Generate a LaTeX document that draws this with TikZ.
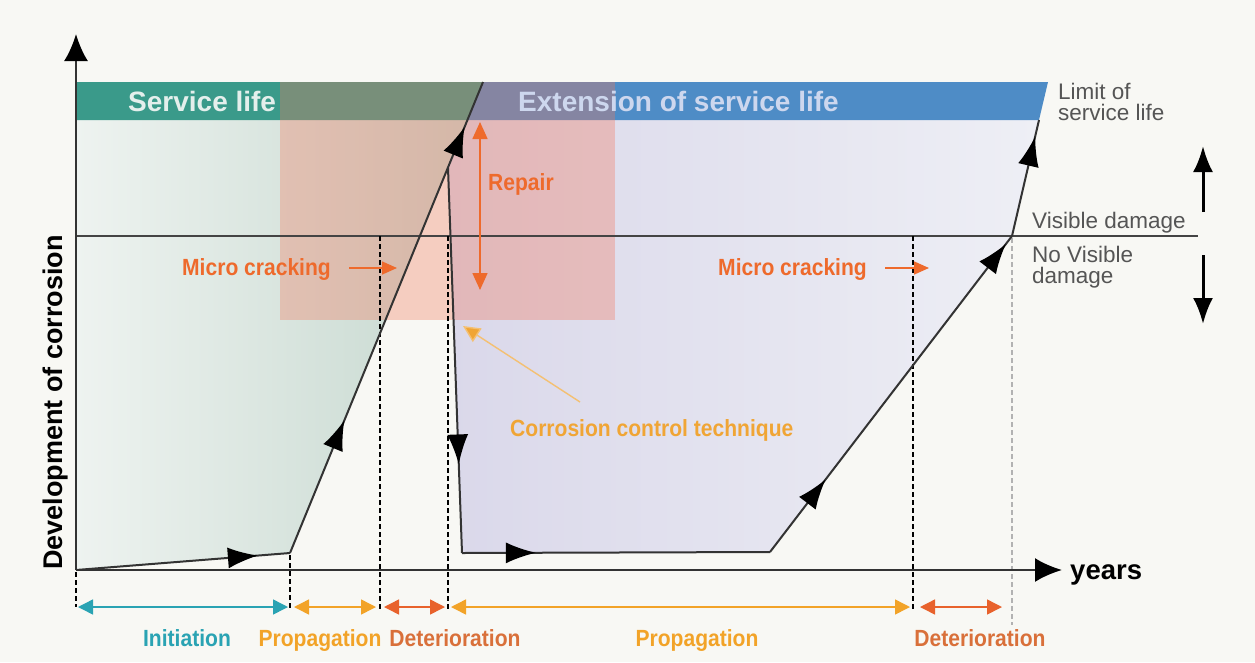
\documentclass[tikz,border=0pt]{standalone}
\usepackage{fontspec}
\setmainfont{Liberation Sans}
\newfontfamily\cond[FakeStretch=0.9]{Liberation Sans}
\usetikzlibrary{arrows.meta,decorations.markings}
\definecolor{bgc}{HTML}{F8F8F4}
\definecolor{tealband}{HTML}{3A9A8A}
\definecolor{blueband}{HTML}{4E8CC6}
\definecolor{pinkc}{HTML}{F27A5E}
\definecolor{greenL}{HTML}{EEF3F0}
\definecolor{greenD}{HTML}{C6D8CF}
\definecolor{purpL}{HTML}{DAD8EA}
\definecolor{purpR}{HTML}{EEEFF5}
\definecolor{curvec}{HTML}{333333}
\definecolor{cyanc}{HTML}{2AA3B3}
\definecolor{orangec}{HTML}{F2A328}
\definecolor{redc}{HTML}{E8622C}
\definecolor{detc}{HTML}{D9703A}
\definecolor{labelor}{HTML}{EE6A2C}
\definecolor{cctc}{HTML}{F0A535}
\definecolor{grayt}{HTML}{555555}
\definecolor{bandtxt}{HTML}{E4EFEC}
\begin{document}
\begin{tikzpicture}[x=1pt,y=-1pt,
  curve/.style={draw=curvec,line width=2pt},
  marr/.style={postaction={decorate,decoration={markings,
     mark=at position #1 with {\arrow{Latex[length=30pt,width=21pt,color=black]}}}}},
  dashv/.style={draw=black,line width=1.1pt,dash pattern=on 5pt off 3pt},
  dashg/.style={draw=black!30,line width=1.1pt,dash pattern=on 5pt off 3pt},
  span/.style={line width=1.5pt,{Triangle[length=15pt,width=15pt]}-{Triangle[length=15pt,width=15pt]}},
  orlab/.style={font=\cond\bfseries\fontsize{23.4}{24}\selectfont,inner sep=0pt},
  bandlab/.style={font=\bfseries\fontsize{28}{30}\selectfont,text=bandtxt,inner sep=0pt},
  graylab/.style={font=\fontsize{22.5}{20.5}\selectfont,text=grayt,inner sep=0pt,align=left},
  bigarr/.style={draw=black,line width=3pt,-{Latex[length=26pt,width=20pt]}}
]
\useasboundingbox (0,0) rectangle (1255,662);
\fill[bgc] (0,0) rectangle (1255,662);

% key points of the curve
\coordinate (O) at (76,570);
\coordinate (A) at (290,553);
\coordinate (B) at (467,120);
\coordinate (Bt) at (483,82);
\coordinate (C) at (448,168);
\coordinate (D) at (462,553);
\coordinate (E) at (770,552);
\coordinate (F) at (1012,236);
\coordinate (G) at (1039,120);
\coordinate (Gt) at (1048,82);

% shaded regions
\shade[left color=greenL,right color=greenD] (76,120) -- (B) -- (A) -- (O) -- cycle;
\shade[left color=purpL,right color=purpR] (B) -- (G) -- (F) -- (E) -- (D) -- (C) -- cycle;

% bands
\fill[tealband] (76,82) -- (Bt) -- (B) -- (76,120) -- cycle;
\fill[blueband] (Bt) -- (Gt) -- (G) -- (B) -- cycle;

% repair overlay
\fill[pinkc,opacity=0.34] (280,82) rectangle (615,320);

\node[bandlab,anchor=base west] (sl) at (128,111) {Service life};
\node[bandlab,anchor=base west,text=bandtxt!90!blue] (esl) at (518,111) {Extension of service life};

% visible damage line
\coordinate (vL) at (76,236);
\coordinate (vR) at (1198,236);
\draw[grayt!80!black,line width=1.4pt] (vL) -- (vR);

% dashed guides
\coordinate (d0a) at (76,572);  \coordinate (d0b) at (76,607);
\coordinate (d1a) at (290,555); \coordinate (d1b) at (290,610);
\coordinate (d2a) at (380,236); \coordinate (d2b) at (380,610);
\coordinate (d3a) at (448,236); \coordinate (d3b) at (448,610);
\coordinate (d4a) at (913,236); \coordinate (d4b) at (913,610);
\coordinate (d5a) at (1012,238); \coordinate (d5b) at (1012,625);
\draw[dashv] (d0a) -- (d0b);
\draw[dashv] (d1a) -- (d1b);
\draw[dashv] (d2a) -- (d2b);
\draw[dashv] (d3a) -- (d3b);
\draw[dashv] (d4a) -- (d4b);
\draw[dashg] (d5a) -- (d5b);

% axes
\coordinate (yT) at (76,34);
\coordinate (xR) at (1062,570);
\draw[draw=curvec,line width=2.4pt,-{Latex[length=27pt,width=24pt,color=black]}] (O) -- (yT);
\draw[draw=curvec,line width=2.4pt,-{Latex[length=27pt,width=24pt,color=black]}] (O) -- (xR);
\node[font=\bfseries\fontsize{27.5}{30}\selectfont,anchor=base west,inner sep=0pt] (yrs) at (1070,579) {years};
\node[font=\bfseries\fontsize{27}{30}\selectfont,rotate=90,anchor=base west,inner sep=0pt] (dev) at (62,570) {Development of corrosion};

% the corrosion curve
\draw[curve,marr=0.85] (O) -- (A);
\draw[curve,marr=0.282,marr=0.905] (A) -- (Bt);
\draw[curve,marr=0.77] (C) -- (D);
\draw[curve,marr=0.24] (D) -- (E);
\draw[curve,marr=0.23,marr=0.975] (E) -- (F);
\draw[curve,marr=0.86] (F) -- (G);

% repair arrow
\coordinate (rT) at (480,122);
\coordinate (rB) at (480,290);
\draw[draw=labelor,line width=1.6pt,{Triangle[length=17pt,width=15pt]}-{Triangle[length=17pt,width=15pt]}] (rT) -- (rB);
\node[orlab,text=labelor,anchor=base west] (rep) at (488,190) {Repair};

% micro cracking
\node[orlab,text=labelor,anchor=base west] (mc1) at (182,275) {Micro cracking};
\coordinate (mc1e) at (397,268);
\draw[draw=labelor,line width=1.6pt,-{Triangle[length=15pt,width=13pt]}] ([xshift=18pt]mc1.base east) ++(0,-7) -- (mc1e);
\node[orlab,text=labelor,anchor=base west] (mc2) at (718,275) {Micro cracking};
\coordinate (mc2e) at (929,268);
\draw[draw=labelor,line width=1.6pt,-{Triangle[length=15pt,width=13pt]}] ([xshift=18pt]mc2.base east) ++(0,-7) -- (mc2e);

% corrosion control technique
\node[orlab,text=cctc,anchor=base west] (cct) at (510,436) {Corrosion control technique};
\coordinate (cctA) at (580,402);
\coordinate (cctT) at (463,326);
\draw[draw=cctc!70,line width=1.4pt,-{Triangle[length=17pt,width=16pt,fill=cctc]}] (cctA) -- (cctT);

% phase spans
\coordinate (p0) at (78,607);  \coordinate (p1) at (288,607);
\coordinate (p2) at (294,607); \coordinate (p3) at (376,607);
\coordinate (p4) at (384,607); \coordinate (p5) at (445,607);
\coordinate (p6) at (451,607); \coordinate (p7) at (910,607);
\coordinate (p8) at (920,607); \coordinate (p9) at (1002,607);
\draw[span,draw=cyanc,fill=cyanc] (p0) -- (p1);
\draw[span,draw=orangec,fill=orangec] (p2) -- (p3);
\draw[span,draw=redc,fill=redc] (p4) -- (p5);
\draw[span,draw=orangec,fill=orangec] (p6) -- (p7);
\draw[span,draw=redc,fill=redc] (p8) -- (p9);

\node[orlab,text=cyanc,anchor=base] (ini) at (187,646) {Initiation};
\node[orlab,text=orangec,anchor=base] (pro1) at (320,646) {Propagation};
\node[orlab,text=detc,anchor=base] (det1) at (455,646) {Deterioration};
\node[orlab,text=orangec,anchor=base] (pro2) at (697,646) {Propagation};
\node[orlab,text=detc,anchor=base] (det2) at (980,646) {Deterioration};

% right-hand labels
\node[graylab,anchor=north west] (lim) at (1058,83) {Limit of\\service life};
\node[graylab,anchor=base west] (vis) at (1032,228) {Visible damage};
\node[graylab,anchor=north west] (nvis) at (1032,246) {No Visible\\damage};
\coordinate (uA) at (1203,212); \coordinate (uT) at (1203,146);
\coordinate (dA) at (1203,255); \coordinate (dT) at (1203,324);
\draw[bigarr] (uA) -- (uT);
\draw[bigarr] (dA) -- (dT);
\end{tikzpicture}
\end{document}
